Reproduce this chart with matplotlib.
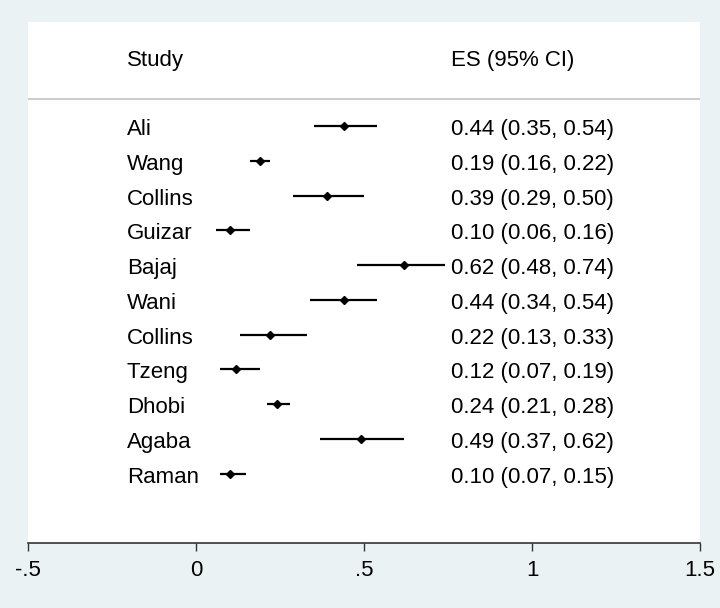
import matplotlib.pyplot as plt
import numpy as np

plt.rcParams['font.family'] = ['Liberation Sans', 'DejaVu Sans']

# study names and effect sizes with 95% CI
studies = ["Ali", "Wang", "Collins", "Guizar", "Bajaj", "Wani", "Collins",
           "Tzeng", "Dhobi", "Agaba", "Raman"]
es = [0.44, 0.19, 0.39, 0.10, 0.62, 0.44, 0.22, 0.12, 0.24, 0.49, 0.10]
lo = [0.35, 0.16, 0.29, 0.06, 0.48, 0.34, 0.13, 0.07, 0.21, 0.37, 0.07]
hi = [0.54, 0.22, 0.50, 0.16, 0.74, 0.54, 0.33, 0.19, 0.28, 0.62, 0.15]
xticks = [-0.5, 0, 0.5, 1, 1.5]
xticklabels = ["-.5", "0", ".5", "1", "1.5"]

bg = "#eaf2f3"
fig = plt.figure(figsize=(7.2, 6.08), dpi=100, facecolor=bg)
ax = fig.add_axes([28/720, 1-543/608, 672/720, 521/608])
ax.set_facecolor("white")

rows = np.arange(len(studies))
ax.hlines(rows, lo, hi, color="black", linewidth=1.6)
ax.plot(es, rows, linestyle="none", marker="D", markersize=4.3, color="black")

tr = ax.get_yaxis_transform()
dy = 0.1  # text sits a touch lower than the marks
for i in rows:
    ax.text(0.147, i + dy, studies[i], transform=tr, fontsize=16, va="center", ha="left")
    ax.text(0.629, i + dy, "%.2f (%.2f, %.2f)" % (es[i], lo[i], hi[i]),
            transform=tr, fontsize=16, va="center", ha="left")

ax.text(0.147, -2 + dy, "Study", transform=tr, fontsize=16, va="center", ha="left")
ax.text(0.629, -2 + dy, "ES (95% CI)", transform=tr, fontsize=16, va="center", ha="left")
ax.axhline(-0.78, color="#c4c4c4", linewidth=1.2)

ax.set_xlim(-0.5, 1.5)
ax.set_ylim(12, -3)
ax.set_xticks(xticks)
ax.set_xticklabels(xticklabels, fontsize=16)
ax.set_yticks([])
for s in ["top", "left", "right"]:
    ax.spines[s].set_visible(False)
ax.spines["bottom"].set_color("#333333")
ax.spines["bottom"].set_linewidth(1.2)
ax.tick_params(axis="x", length=6, width=1, color="#333333", pad=6)

fig.savefig("out.png", dpi=100, facecolor=bg)
